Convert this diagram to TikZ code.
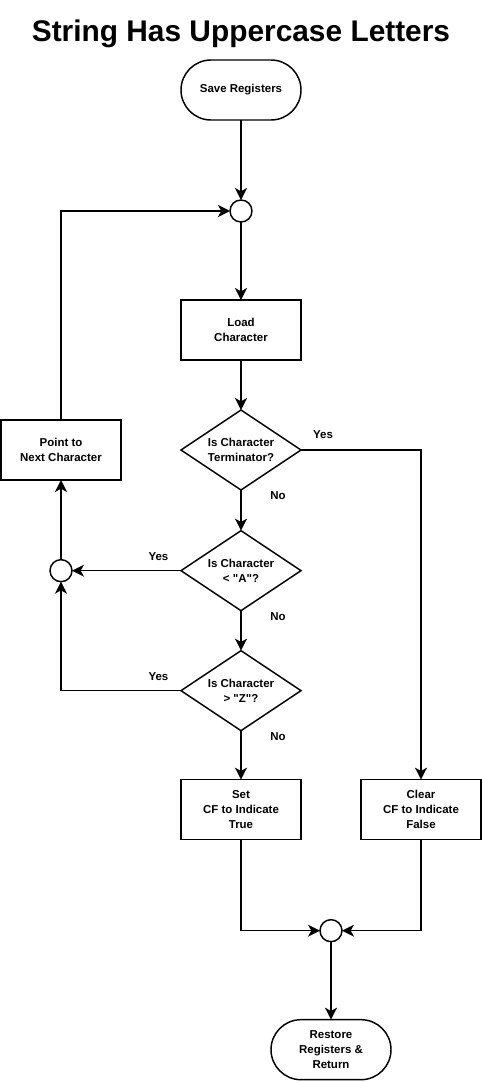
\documentclass[tikz,border=0pt]{standalone}
\usepackage{fontspec}
\setmainfont{Liberation Sans}
\usepackage{tikz}
\usetikzlibrary{positioning,shapes,arrows.meta,calc}

\begin{document}
\begin{tikzpicture}

					\tikzstyle{terminal} = [rectangle,rounded corners=22.5pt,draw=black,line width=1.1pt,outer sep=0pt,minimum width=90pt,minimum height=45pt,align=center,font=\fontsize{8.6}{11.25}\selectfont\bfseries]
					\tikzstyle{proceso} = [rectangle,draw=black,line width=1.1pt,outer sep=0pt,minimum width=90pt,minimum height=45pt,align=center,font=\fontsize{8.6}{11.25}\selectfont\bfseries]
					\tikzstyle{decision} = [diamond,draw=black,line width=1.1pt,outer sep=0pt,minimum width=90pt,minimum height=60pt,inner sep=0pt,aspect=1.5,align=center,font=\fontsize{8.6}{11.25}\selectfont\bfseries]
					\tikzstyle{union} = [circle,draw=black,line width=1.1pt,outer sep=0pt,minimum size=16.5pt,inner sep=0pt]
					\tikzstyle{etiqueta} = [inner sep=0pt,font=\fontsize{8.6}{10}\selectfont\bfseries]
					\tikzstyle{titulo} = [inner sep=0pt,font=\fontsize{22.4}{27}\selectfont\bfseries]
					\tikzstyle{flecha} = [-{Stealth[length=9pt,width=9pt,inset=2.5pt]},line width=1.1pt]

					\useasboundingbox (-180.75pt,67.5pt) rectangle (180.75pt,-744pt);

					\node[terminal] (save) at (0,0) {Save Registers};
					\node[titulo,above=9pt of save] (tit) {String Has Uppercase Letters};
					\node[union,below=60pt of save] (j1) {};
					\node[proceso,below=58.5pt of j1] (load) {Load\\Character};
					\node[decision,below=37.5pt of load] (d1) {Is Character\\Terminator?};
					\node[decision,below=30.5pt of d1] (d2) {Is Character\\< \textquotedbl A\textquotedbl ?};
					\node[decision,below=30pt of d2] (d3) {Is Character\\> \textquotedbl Z\textquotedbl ?};
					\node[proceso,left=45pt of d1] (pt) {Point to\\Next Character};
					\node[union] (j2) at (pt |- d2) {};
					\node[proceso,below=36.75pt of d3] (set) {Set\\CF to Indicate\\True};
					\node[proceso,right=45pt of set] (clr) {Clear\\CF to Indicate\\False};
					\coordinate (mid) at ($(set.south)!0.5!(clr.south)$);
					\node[union,below=60pt of mid] (j3) {};
					\node[terminal,below=58.5pt of j3] (rest) {Restore\\Registers \&\\Return};

					\node[etiqueta] (si1) at ($(d1.east)+(16.5pt,11.25pt)$) {Yes};
					\node[etiqueta] (no1) at ($(d1.south)+(27.75pt,-4.5pt)$) {No};
					\node[etiqueta] (si2) at ($(d2.west)+(-16.9pt,10.5pt)$) {Yes};
					\node[etiqueta] (no2) at ($(d2.south)+(27.75pt,-4.5pt)$) {No};
					\node[etiqueta] (si3) at ($(d3.west)+(-16.9pt,10.5pt)$) {Yes};
					\node[etiqueta] (no3) at ($(d3.south)+(27.75pt,-4.5pt)$) {No};

					\draw[flecha] (save) -- (j1);
					\draw[flecha] (j1) -- (load);
					\draw[flecha] (load) -- (d1);
					\draw[flecha] (d1) -- (d2);
					\draw[flecha] (d2) -- (d3);
					\draw[flecha] (d3) -- (set);
					\draw[flecha] (d1.east) -| (clr.north);
					\draw[flecha] (d2.west) -- (j2.east);
					\draw[flecha] (d3.west) -| (j2.south);
					\draw[flecha] (j2) -- (pt);
					\draw[flecha] (pt.north) |- (j1.west);
					\draw[flecha] (set.south) |- (j3.west);
					\draw[flecha] (clr.south) |- (j3.east);
					\draw[flecha] (j3) -- (rest);

				\end{tikzpicture}
\end{document}
